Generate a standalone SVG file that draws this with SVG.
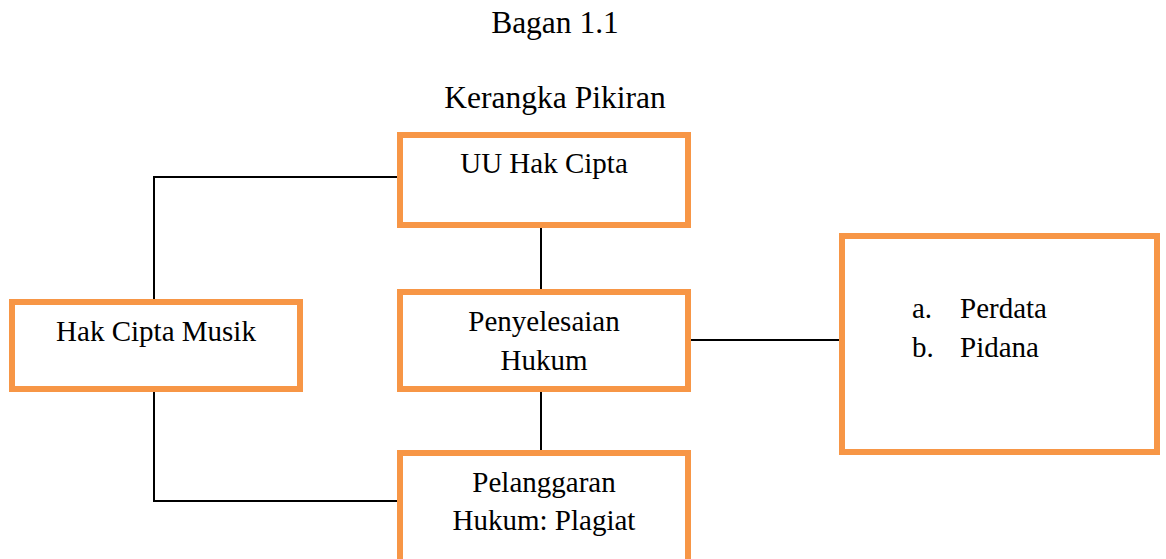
<svg xmlns="http://www.w3.org/2000/svg" width="1166" height="559" viewBox="0 0 1166 559">
<style>
.box{fill:#fff;stroke:#F79646;stroke-width:6}
.t{font-family:"Liberation Serif","Times New Roman",serif;font-size:29px;fill:#000}
.h{font-size:31.5px}
.c{text-anchor:middle}
.ln{fill:none;stroke:#000;stroke-width:2}
</style>
<rect width="1166" height="559" fill="#fff"/>
<text class="t h c" x="555" y="33">Bagan 1.1</text>
<text class="t h c" x="555" y="108">Kerangka Pikiran</text>
<g id="connectors">
<polyline class="ln" points="400,177 154,177 154,302"/>
<line class="ln" x1="541" y1="228" x2="541" y2="292"/>
<polyline class="ln" points="154,389 154,501 400,501"/>
<line class="ln" x1="541" y1="389" x2="541" y2="453"/>
<line class="ln" x1="688" y1="340" x2="842" y2="340"/>
</g>
<g id="uu">
<rect class="box" x="400" y="135" width="288" height="90"/>
<text class="t c" x="544" y="173">UU Hak Cipta</text>
</g>
<g id="musik">
<rect class="box" x="12" y="302" width="288" height="87"/>
<text class="t c" x="156" y="341">Hak Cipta Musik</text>
</g>
<g id="penyelesaian">
<rect class="box" x="400" y="292" width="288" height="97"/>
<text class="t c" x="544" y="331">Penyelesaian</text>
<text class="t c" x="544" y="370">Hukum</text>
</g>
<g id="jenis">
<rect class="box" x="842" y="236" width="315" height="216"/>
<text class="t" x="912" y="318">a.</text>
<text class="t" x="960" y="318">Perdata</text>
<text class="t" x="912" y="357">b.</text>
<text class="t" x="960" y="357">Pidana</text>
</g>
<g id="pelanggaran">
<rect class="box" x="400" y="453" width="288" height="130"/>
<text class="t c" x="544" y="492">Pelanggaran</text>
<text class="t c" x="544" y="530">Hukum: Plagiat</text>
</g>
</svg>
